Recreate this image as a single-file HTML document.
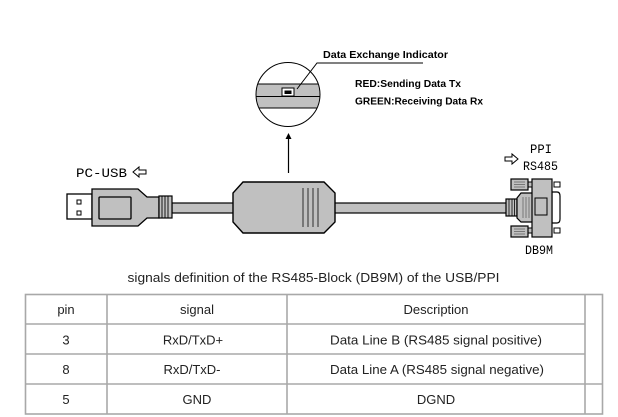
<!DOCTYPE html>
<html><head><meta charset="utf-8"><style>
html,body{margin:0;padding:0;background:#fff;}
svg{display:block;}
</style></head><body>
<svg width="618" height="417" viewBox="0 0 618 417" xmlns="http://www.w3.org/2000/svg">
<rect x="0" y="0" width="618" height="417" fill="#fff"/>

<!-- Cables -->
<rect x="172" y="203" width="62" height="10" fill="#c0c0c0" stroke="#000" stroke-width="1.2"/>
<rect x="334" y="203" width="173" height="10" fill="#c0c0c0" stroke="#000" stroke-width="1.2"/>

<!-- USB plug -->
<rect x="67" y="194" width="25" height="25" fill="#fff" stroke="#000" stroke-width="1.3"/>
<rect x="77" y="200" width="4" height="4" fill="#fff" stroke="#000" stroke-width="1"/>
<rect x="77" y="211" width="4" height="4" fill="#fff" stroke="#000" stroke-width="1"/>
<polygon points="92,189 138,189 147,197 159,197 159,218 147,218 138,226 92,226" fill="#c0c0c0" stroke="#000" stroke-width="1.3"/>
<rect x="99" y="197" width="32" height="22" rx="1" fill="#c0c0c0" stroke="#000" stroke-width="1.3"/>
<rect x="159" y="196" width="13" height="22" fill="#c0c0c0" stroke="#000" stroke-width="1.2"/>
<line x1="162" y1="196" x2="162" y2="218" stroke="#000" stroke-width="0.9"/>
<line x1="165" y1="196" x2="165" y2="218" stroke="#000" stroke-width="0.9"/>
<line x1="168" y1="196" x2="168" y2="218" stroke="#000" stroke-width="0.9"/>

<!-- Adapter -->
<polygon points="243,182 324,182 335,193 335,222 324,233 243,233 233,222 233,193" fill="#c0c0c0" stroke="#000" stroke-width="1.4"/>
<line x1="303" y1="188" x2="303" y2="227" stroke="#777" stroke-width="2"/>
<line x1="308" y1="188" x2="308" y2="227" stroke="#777" stroke-width="2"/>
<line x1="313" y1="188" x2="313" y2="227" stroke="#777" stroke-width="2"/>
<line x1="318" y1="188" x2="318" y2="227" stroke="#777" stroke-width="2"/>

<!-- Arrow up -->
<line x1="288.5" y1="173" x2="288.5" y2="137" stroke="#000" stroke-width="1.2"/>
<polygon points="285.5,139 291.5,139 288.5,133" fill="#000"/>

<!-- Magnifier circle -->
<defs><clipPath id="cc"><circle cx="288" cy="94.5" r="32"/></clipPath></defs>
<circle cx="288" cy="94.5" r="32" fill="#fff"/>
<g clip-path="url(#cc)">
<rect x="250" y="84" width="80" height="24" fill="#c0c0c0"/>
<line x1="250" y1="84" x2="330" y2="84" stroke="#000" stroke-width="1"/>
<line x1="250" y1="96.5" x2="330" y2="96.5" stroke="#000" stroke-width="1"/>
<line x1="250" y1="108" x2="330" y2="108" stroke="#000" stroke-width="1"/>
</g>
<circle cx="288" cy="94.5" r="32" fill="none" stroke="#000" stroke-width="1"/>
<rect x="282" y="88" width="12" height="8" fill="#fff" stroke="#000" stroke-width="1"/>
<rect x="284.5" y="90.5" width="7" height="3.5" fill="#000"/>
<polyline points="297,89 317,63 423,63" fill="none" stroke="#000" stroke-width="1"/>

<!-- bold labels -->
<g font-family="Liberation Sans, sans-serif" font-weight="bold" font-size="10" fill="#000">
<text x="323" y="58" textLength="125" lengthAdjust="spacingAndGlyphs">Data Exchange Indicator</text>
<text x="355" y="87" textLength="106" lengthAdjust="spacingAndGlyphs">RED:Sending Data Tx</text>
<text x="355" y="104.5" textLength="128" lengthAdjust="spacingAndGlyphs">GREEN:Receiving Data Rx</text>
</g>

<!-- mono labels -->
<g font-family="Liberation Mono, monospace" font-size="13" fill="#000">
<text x="76" y="177" textLength="51" lengthAdjust="spacingAndGlyphs">PC-USB</text>
<text x="530" y="153" textLength="22" lengthAdjust="spacingAndGlyphs">PPI</text>
<text x="523" y="170" textLength="35" lengthAdjust="spacingAndGlyphs">RS485</text>
<text x="525" y="254" textLength="28" lengthAdjust="spacingAndGlyphs">DB9M</text>
</g>
<polygon points="133,172 139,167 139,170 146,170 146,174 139,174 139,177" fill="#fff" stroke="#000" stroke-width="1"/>
<polygon points="518,159 512,154 512,157 505,157 505,161 512,161 512,164" fill="#fff" stroke="#000" stroke-width="1"/>

<!-- DB9 connector -->
<rect x="506" y="199" width="11" height="17" fill="#c0c0c0" stroke="#000" stroke-width="1.2"/>
<line x1="509" y1="199" x2="509" y2="216" stroke="#000" stroke-width="0.8"/>
<line x1="512" y1="199" x2="512" y2="216" stroke="#000" stroke-width="0.8"/>
<line x1="514.5" y1="199" x2="514.5" y2="216" stroke="#000" stroke-width="0.8"/>
<polygon points="517,198 521,193 533,193 533,222 521,222 517,218" fill="#c0c0c0" stroke="#000" stroke-width="1.2"/>
<line x1="523" y1="197" x2="523" y2="218" stroke="#666" stroke-width="0.8"/>
<line x1="526" y1="197" x2="526" y2="218" stroke="#666" stroke-width="0.8"/>
<line x1="529" y1="197" x2="529" y2="218" stroke="#666" stroke-width="0.8"/>
<path d="M552,192 L557,192 Q560,192 560,196 L560,219 Q560,223 557,223 L552,223 Z" fill="#fff" stroke="#000" stroke-width="1.2"/>
<rect x="554" y="182" width="6" height="5" fill="#fff" stroke="#000" stroke-width="1"/>
<rect x="554" y="228" width="6" height="5" fill="#fff" stroke="#000" stroke-width="1"/>
<rect x="532" y="179" width="20" height="58" fill="#c0c0c0" stroke="#000" stroke-width="1.2"/>
<rect x="535" y="198" width="12" height="17" fill="#c0c0c0" stroke="#000" stroke-width="1"/>
<rect x="528" y="182" width="4" height="5" fill="#c0c0c0" stroke="#000" stroke-width="1"/>
<rect x="528" y="228" width="4" height="5" fill="#c0c0c0" stroke="#000" stroke-width="1"/>
<rect x="511" y="179" width="17" height="11" fill="#c0c0c0" stroke="#000" stroke-width="1.2"/>
<rect x="511" y="226" width="17" height="11" fill="#c0c0c0" stroke="#000" stroke-width="1.2"/>
<g stroke="#666" stroke-width="0.8">
<line x1="514" y1="182" x2="525" y2="182"/><line x1="514" y1="184.5" x2="525" y2="184.5"/><line x1="514" y1="187" x2="525" y2="187"/>
<line x1="514" y1="229" x2="525" y2="229"/><line x1="514" y1="231.5" x2="525" y2="231.5"/><line x1="514" y1="234" x2="525" y2="234"/>
</g>

<!-- Caption -->
<text x="127.5" y="282" font-family="Liberation Sans, sans-serif" font-size="13" fill="#222" textLength="372" lengthAdjust="spacingAndGlyphs">signals definition of the RS485-Block (DB9M) of the USB/PPI</text>

<!-- Table -->
<g stroke="#a8a8a8" stroke-width="1.6" fill="none">
<rect x="25.5" y="294.5" width="577" height="119.5"/>
<line x1="107" y1="294" x2="107" y2="414"/>
<line x1="287" y1="294" x2="287" y2="414"/>
<line x1="585" y1="294" x2="585" y2="414"/>
<line x1="25" y1="324" x2="585" y2="324"/>
<line x1="25" y1="354" x2="585" y2="354"/>
<line x1="25" y1="384" x2="603" y2="384"/>
</g>
<g font-family="Liberation Sans, sans-serif" font-size="13" fill="#222" text-anchor="middle">
<text x="66" y="314">pin</text>
<text x="197" y="314">signal</text>
<text x="436" y="314">Description</text>
<text x="66" y="344.5">3</text>
<text x="193" y="344.5">RxD/TxD+</text>
<text x="436" y="344.5" textLength="212" lengthAdjust="spacingAndGlyphs">Data Line B (RS485 signal positive)</text>
<text x="66" y="374">8</text>
<text x="192" y="374">RxD/TxD-</text>
<text x="437" y="374" textLength="214" lengthAdjust="spacingAndGlyphs">Data Line A (RS485 signal negative)</text>
<text x="66" y="404">5</text>
<text x="197" y="404">GND</text>
<text x="436" y="404">DGND</text>
</g>
</svg>
</body></html>
